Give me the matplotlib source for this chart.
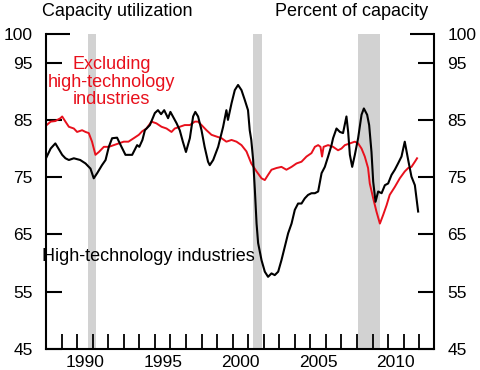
import matplotlib
matplotlib.use('Agg')
import matplotlib.pyplot as plt

plt.rcParams['font.family'] = ['Liberation Sans', 'DejaVu Sans']

# High-technology industries, capacity utilization (percent)
hitech_years = [
    1988.0, 1988.3, 1988.6, 1988.8, 1989.04, 1989.25, 1989.47, 1989.79,
    1990.2, 1990.54, 1990.86, 1991.07, 1991.29, 1991.6, 1991.83, 1992.04,
    1992.25, 1992.57, 1992.8, 1993.11, 1993.54, 1993.86, 1994.0, 1994.2,
    1994.36, 1994.68, 1995.0, 1995.2, 1995.4, 1995.6, 1995.85, 1996.0,
    1996.4, 1996.6, 1996.8, 1997.0, 1997.25, 1997.46, 1997.6, 1997.78,
    1998.0, 1998.2, 1998.42, 1998.53, 1998.75, 1999.07, 1999.39, 1999.6,
    1999.7, 1999.93, 2000.14, 2000.35, 2000.57, 2000.78, 2000.99, 2001.1,
    2001.2, 2001.32, 2001.43, 2001.54, 2001.64, 2001.86, 2002.07, 2002.28,
    2002.5, 2002.71, 2002.93, 2003.14, 2003.36, 2003.57, 2003.79, 2004.0,
    2004.21, 2004.43, 2004.64, 2004.85, 2005.07, 2005.29, 2005.5, 2005.72,
    2005.93, 2006.14, 2006.36, 2006.46, 2006.68, 2006.9, 2007.1, 2007.32,
    2007.43, 2007.54, 2007.69, 2007.86, 2008.07, 2008.29, 2008.44, 2008.65,
    2008.78, 2008.93, 2009.04, 2009.19, 2009.36, 2009.58, 2009.79, 2010.0,
    2010.22, 2010.43, 2010.64, 2010.86, 2011.07, 2011.29, 2011.5, 2011.72,
    2011.93,
]
hitech_vals = [
    78.3, 80.0, 80.9, 80.0, 78.9, 78.3, 78.0, 78.3,
    78.0, 77.4, 76.5, 74.8, 75.7, 77.1, 78.0, 80.3,
    81.8, 81.9, 80.6, 78.9, 78.9, 80.6, 80.3, 81.5,
    83.2, 84.1, 86.2, 86.7, 86.0, 86.7, 85.3, 86.4,
    84.4, 83.2, 81.2, 79.4, 81.8, 85.6, 86.4, 85.6,
    83.2, 80.3, 77.7, 77.1, 78.0, 80.3, 83.8, 86.7,
    85.0, 87.9, 90.2, 91.1, 90.2, 88.5, 86.7, 83.2,
    81.5, 78.0, 72.8, 66.9, 63.5, 60.5, 58.5, 57.6,
    58.2, 57.9, 58.5, 60.5, 62.9, 65.2, 66.9, 69.3,
    70.4, 70.4, 71.3, 71.9, 72.2, 72.2, 72.5, 75.7,
    76.8, 78.6, 80.6, 81.8, 83.5, 82.9, 82.7, 85.6,
    82.9, 78.9, 76.8, 78.9, 81.8, 85.9, 87.0, 85.9,
    84.1, 79.4, 74.2, 70.7, 72.5, 72.2, 73.6, 73.9,
    75.4, 76.3, 77.4, 78.6, 81.2, 78.0, 75.1, 73.6,
    69.0,
]

# Excluding high-technology industries
exhitech_years = [
    1988.0, 1988.3, 1988.6, 1988.93, 1989.04, 1989.25, 1989.47, 1989.79,
    1990.0, 1990.32, 1990.54, 1990.75, 1990.96, 1991.18, 1991.4, 1991.72,
    1992.04, 1992.36, 1992.68, 1993.0, 1993.3, 1993.64, 1993.97, 1994.18,
    1994.46, 1994.78, 1995.1, 1995.43, 1995.75, 1996.07, 1996.28, 1996.6,
    1996.92, 1997.25, 1997.57, 1997.78, 1998.0, 1998.32, 1998.64, 1998.96,
    1999.29, 1999.6, 1999.93, 2000.25, 2000.57, 2000.89, 2001.2, 2001.54,
    2001.86, 2002.07, 2002.28, 2002.5, 2002.82, 2003.14, 2003.46, 2003.79,
    2004.11, 2004.43, 2004.75, 2005.07, 2005.29, 2005.5, 2005.65, 2005.75,
    2005.85, 2006.14, 2006.46, 2006.78, 2007.0, 2007.22, 2007.54, 2007.86,
    2008.07, 2008.29, 2008.5, 2008.71, 2008.82, 2009.04, 2009.25, 2009.47,
    2009.68, 2009.9, 2010.1, 2010.43, 2010.75, 2011.07, 2011.29, 2011.5,
    2011.72, 2011.86,
]
exhitech_vals = [
    84.0, 84.7, 84.8, 85.3, 85.6, 84.7, 83.8, 83.5,
    82.9, 83.2, 82.9, 82.7, 81.2, 78.9, 79.4, 80.3,
    80.3, 80.6, 80.9, 81.2, 81.2, 81.8, 82.4, 83.0,
    83.5, 84.7, 84.4, 83.8, 83.5, 82.9, 83.5, 83.8,
    84.1, 84.1, 84.7, 84.7, 84.1, 83.2, 82.4, 82.1,
    81.8, 81.2, 81.5, 81.2, 80.6, 79.5, 77.4, 76.0,
    74.8, 74.5, 75.4, 76.3, 76.6, 76.8, 76.3, 76.8,
    77.4, 77.7, 78.6, 79.2, 80.3, 80.6, 80.3, 78.6,
    80.3, 80.6, 80.3, 79.7, 80.0, 80.6, 80.9, 81.2,
    80.9, 80.0, 78.6, 76.6, 73.9, 71.3, 69.0, 66.9,
    68.4, 70.1, 71.9, 73.3, 74.8, 76.0, 76.6, 76.8,
    77.7, 78.3,
]

recessions = [(1990.67, 1991.2), (2001.28, 2001.92), (2008.07, 2009.47)]

year_ticks = list(range(1988, 2013))
year_labels = [1990, 1995, 2000, 2005, 2010]
y_ticks = [45, 55, 65, 75, 85, 95]

red = '#e8101c'

fig = plt.figure(figsize=(4.81, 3.70), dpi=100)
ax = fig.add_axes([46 / 481, 21 / 370, 388 / 481, 315 / 370])

for start, end in recessions:
    ax.axvspan(start, end, color='#d2d2d2', lw=0, zorder=0)

ax.plot(exhitech_years, exhitech_vals, color=red, lw=1.4, zorder=2)
ax.plot(hitech_years, hitech_vals, color='black', lw=1.5, zorder=3)

ax.set_xlim(1988, 2012.95)
ax.set_ylim(45, 100)

ax.spines['top'].set_visible(False)
for side in ['left', 'right', 'bottom']:
    ax.spines[side].set_linewidth(1.5)

# year ticks inside, labels centred in the year
ax.set_xticks(year_ticks)
ax.set_xticklabels([])
ax.set_xticks([y + 0.5 for y in year_labels], minor=True)
ax.set_xticklabels([str(y) for y in year_labels], minor=True)
ax.tick_params(axis='x', which='major', direction='in', length=11, width=1.3)
ax.tick_params(axis='x', which='minor', length=0, pad=4, labelsize=12.5)

ax.set_yticks(y_ticks)
ax.set_yticklabels([str(v) for v in y_ticks])
ax.set_yticks([100], minor=True)
ax.set_yticklabels(['100'], minor=True)
ax.tick_params(axis='y', which='both', direction='in', left=True, right=True,
               labelleft=True, labelright=True, width=1.5, pad=9.5,
               labelsize=12.5)
ax.tick_params(axis='y', which='major', length=11.5)
ax.tick_params(axis='y', which='minor', length=17)

ax.text(1992.2, 91.6, 'Excluding\nhigh-technology\nindustries', color=red,
        ha='center', va='center', fontsize=13, linespacing=1.05)
ax.text(1994.6, 61.2, 'High-technology industries', color='black',
        ha='center', va='center', fontsize=13)

fig.text(117.5 / 481, 1 - 12 / 370, 'Capacity utilization', ha='center',
         va='center', fontsize=13)
fig.text(351.5 / 481, 1 - 12 / 370, 'Percent of capacity', ha='center',
         va='center', fontsize=13)

fig.savefig('out.png', dpi=100)
